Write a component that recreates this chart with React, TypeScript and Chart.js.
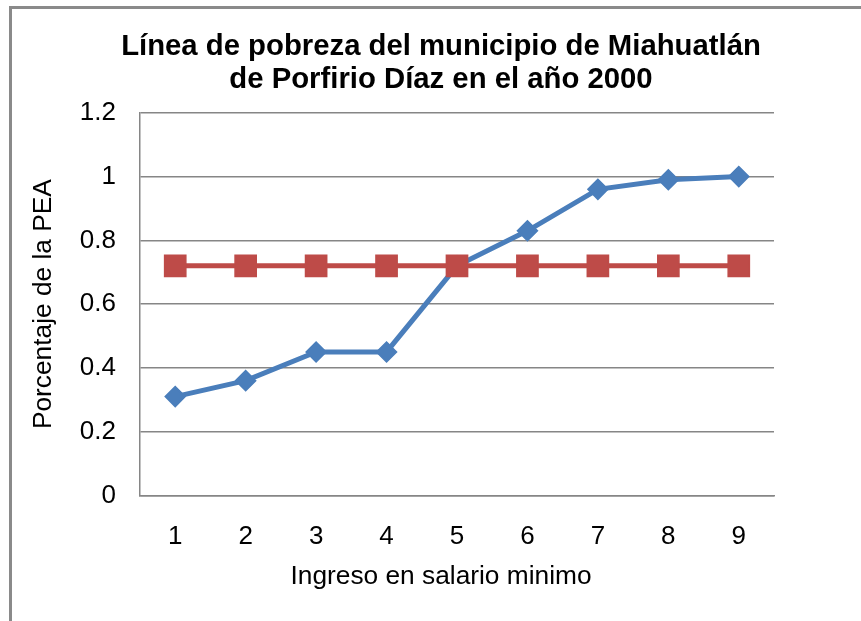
import React, { useEffect, useRef } from "react";
import { Chart, registerables } from "chart.js";

Chart.register(...registerables);

const categories = ["1", "2", "3", "4", "5", "6", "7", "8", "9"];
const pobrezaValues = [0.31, 0.36, 0.45, 0.45, 0.72, 0.83, 0.96, 0.99, 1.0];
const lineaValues = [0.72, 0.72, 0.72, 0.72, 0.72, 0.72, 0.72, 0.72, 0.72];
const yTickLabels = ["0", "0.2", "0.4", "0.6", "0.8", "1", "1.2"];
const titleLines = ["Línea de pobreza del municipio de Miahuatlán", "de Porfirio Díaz en el año 2000"];
const xTitle = "Ingreso en salario minimo";
const yTitle = "Porcentaje de la PEA";

const FONT = "'Liberation Sans', Arial, Helvetica, sans-serif";
const GRID = "#868686";

export default function App() {
  const ref = useRef<HTMLCanvasElement | null>(null);

  useEffect(() => {
    if (!ref.current) return;
    const chart = new Chart(ref.current, {
      type: "line",
      data: {
        labels: categories,
        datasets: [
          {
            label: "Serie 1",
            data: pobrezaValues,
            borderColor: "#4A7EBB",
            backgroundColor: "#4A7EBB",
            borderWidth: 5,
            pointStyle: "rectRot",
            pointRadius: 10,
            pointBorderWidth: 1.5,
            pointBackgroundColor: "#4A7EBB",
            pointBorderColor: "#4A7EBB",
            tension: 0,
            order: 1,
          },
          {
            label: "Serie 2",
            data: lineaValues,
            borderColor: "#BE4B48",
            backgroundColor: "#BE4B48",
            borderWidth: 5,
            pointStyle: "rect",
            pointRadius: 15,
            pointBorderWidth: 1.5,
            pointBackgroundColor: "#BE4B48",
            pointBorderColor: "#BE4B48",
            tension: 0,
            order: 0,
          },
        ],
      },
      options: {
        responsive: false,
        animation: false,
        layout: { padding: { left: 21, right: 0, top: 0, bottom: 0 } },
        plugins: {
          legend: { display: false },
          tooltip: { enabled: false },
          title: {
            display: true,
            text: titleLines,
            color: "#000",
            font: { family: FONT, size: 29.3, weight: "bold", lineHeight: 1.14 },
            padding: { top: 30, bottom: 16 },
          },
          subtitle: {
            display: true,
            position: "bottom",
            text: xTitle,
            color: "#000",
            font: { family: FONT, size: 26.3, weight: "normal", lineHeight: 1.2 },
            padding: { top: 6, bottom: 28 },
          },
        },
        scales: {
          x: {
            offset: true,
            grid: { display: false, drawTicks: false },
            border: { display: true, color: GRID, width: 1.5 },
            ticks: {
              color: "#000",
              font: { family: FONT, size: 26 },
              padding: 26,
              maxRotation: 0,
            },
            afterFit: (s: any) => {
              s.height = 60;
            },
          },
          y: {
            min: 0,
            max: 1.2,
            grid: { color: GRID, lineWidth: 1.5, drawTicks: false },
            border: { display: true, color: GRID, width: 1.5 },
            ticks: {
              stepSize: 0.2,
              color: "#000",
              font: { family: FONT, size: 26 },
              padding: 24,
              callback: (_v: any, i: number) => yTickLabels[i],
            },
            title: {
              display: true,
              text: yTitle,
              color: "#000",
              font: { family: FONT, size: 26.3 },
              padding: { top: 7, bottom: 0 },
            },
            afterFit: (s: any) => {
              s.width = 119;
            },
          },
          yRight: {
            position: "right",
            display: true,
            grid: { display: false, drawTicks: false },
            border: { display: false },
            ticks: { display: false },
            afterFit: (s: any) => {
              s.width = 87;
            },
          },
        },
      },
    });
    return () => chart.destroy();
  }, []);

  return (
    <div
      style={{
        position: "fixed",
        left: 0,
        top: 0,
        width: 861,
        height: 621,
        overflow: "hidden",
        background: "#fff",
      }}
    >
      <div
        style={{
          position: "absolute",
          left: 9,
          top: 6,
          width: 900,
          height: 700,
          borderLeft: "3px solid #8a8a8a",
          borderTop: "3px solid #8a8a8a",
          boxSizing: "border-box",
        }}
      />
      <canvas
        ref={ref}
        width={861}
        height={621}
        style={{ position: "absolute", left: 0, top: 0, width: 861, height: 621 }}
      />
    </div>
  );
}
